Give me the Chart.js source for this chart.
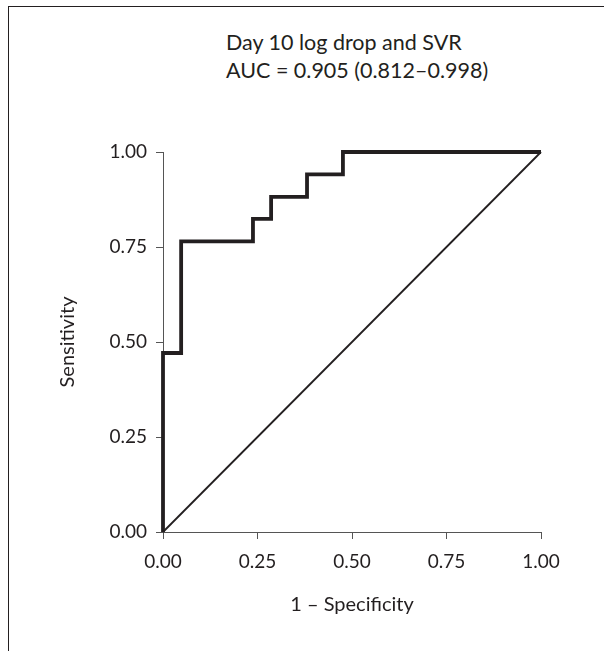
<!DOCTYPE html>
<html>
<head>
<meta charset="utf-8">
<script src="https://cdn.jsdelivr.net/npm/chart.js@4.4.1/dist/chart.umd.min.js"></script>
<style>
  html, body { margin: 0; padding: 0; background: #fff; overflow: hidden; }
  body { width: 604px; height: 651px; position: relative; }
  #frame { position: absolute; left: 8px; top: 6px; width: 800px; height: 900px;
           border: 1.5px solid #231f20; box-sizing: border-box; }
  #title { position: absolute; left: 226px; top: 28px; font-family: Lato, sans-serif;
           font-size: 21.5px; line-height: 28px; color: #231f20; white-space: nowrap; }
  #wrap { position: absolute; left: 0; top: 0; width: 604px; height: 651px; }
</style>
</head>
<body>
<div id="frame"></div>
<div id="title">Day 10 log drop and SVR<br>AUC = 0.905 (0.812–0.998)</div>
<div id="wrap"><canvas id="c" width="604" height="651"></canvas></div>
<script>
// ROC curve points (1 - specificity, sensitivity)
const rocFpr = [0, 0, 0.048, 0.048, 0.238, 0.238, 0.286, 0.286, 0.381, 0.381, 0.476, 0.476, 1.0];
const rocTpr = [0, 0.471, 0.471, 0.765, 0.765, 0.824, 0.824, 0.882, 0.882, 0.941, 0.941, 1.0, 1.0];
// Reference (chance) line
const chanceFpr = [0, 1];
const chanceTpr = [0, 1];
// Axis ticks
const tickValues = [0, 0.25, 0.5, 0.75, 1.0];
const xTitle = '1 – Specificity';
const yTitle = 'Sensitivity';

const ink = '#231f20';
const axisCol = '#555555';
const fontFam = 'Lato, sans-serif';

const rocData = rocFpr.map((x, i) => ({ x: x, y: rocTpr[i] }));
const chanceData = chanceFpr.map((x, i) => ({ x: x, y: chanceTpr[i] }));

function axis(isX) {
  return {
    type: 'linear', min: 0, max: 1,
    afterBuildTicks: (s) => { s.ticks = tickValues.map(v => ({ value: v })); },
    afterFit: (s) => { if (isX) s.height = 119; else s.width = 163; },
    ticks: {
      callback: (v) => Number(v).toFixed(2),
      font: { family: fontFam, size: 19 },
      color: ink,
      padding: isX ? 11 : 9,
      maxRotation: 0, autoSkip: false
    },
    grid: { drawOnChartArea: false, drawTicks: true, tickLength: 7, color: axisCol, lineWidth: 1 },
    border: { display: true, color: axisCol, width: 1 },
    title: {
      display: true, text: isX ? xTitle : yTitle, color: ink,
      font: { family: fontFam, size: 20 },
      padding: isX ? { top: 0, bottom: 34 } : { top: 56, bottom: 0 }
    }
  };
}

new Chart(document.getElementById('c'), {
  type: 'scatter',
  data: {
    datasets: [
      { data: rocData, showLine: true, borderColor: ink, borderWidth: 3.8, clip: false,
        borderJoinStyle: 'miter', borderCapStyle: 'butt', pointRadius: 0, tension: 0 },
      { data: chanceData, showLine: true, borderColor: ink, borderWidth: 1.8, clip: false,
        pointRadius: 0, tension: 0 }
    ]
  },
  options: {
    responsive: false, animation: false,
    layout: { padding: { top: 152, right: 63, left: 0, bottom: 0 } },
    plugins: { legend: { display: false }, tooltip: { enabled: false }, title: { display: false } },
    scales: { x: axis(true), y: axis(false) }
  }
});
</script>
</body>
</html>
